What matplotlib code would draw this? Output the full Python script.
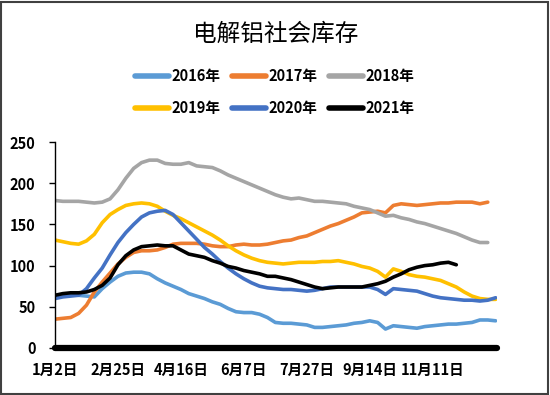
import matplotlib.pyplot as plt
from matplotlib.patches import Rectangle

plt.rcParams['font.family'] = ['Noto Sans CJK SC', 'DejaVu Sans']

tick_labels = ["1月2日", "2月25日", "4月16日", "6月7日", "7月27日", "9月14日", "11月11日"]
tick_step = 8

s2016 = [61, 63, 65, 64, 63, 62, 72, 80, 87, 91, 92, 92, 90, 84, 79, 75, 71, 66, 63, 60,
         56, 53, 48, 44, 43, 43, 41, 37, 31, 30, 30, 29, 28, 25, 25, 26, 27, 28, 30, 31,
         33, 31, 23, 27, 26, 25, 24, 26, 27, 28, 29, 29, 30, 31, 34, 34, 33]
s2017 = [35, 36, 37, 42, 52, 68, 80, 91, 102, 110, 116, 118, 118, 119, 122, 126, 127, 127, 127, 126,
         124, 123, 123, 125, 126, 125, 125, 126, 128, 130, 131, 134, 136, 140, 144, 148, 151, 155, 159, 164,
         165, 166, 164, 173, 175, 174, 173, 174, 175, 176, 176, 177, 177, 177, 175, 177]
s2018 = [179, 178, 178, 178, 177, 176, 177, 181, 192, 206, 218, 225, 228, 228, 224, 223, 223, 225, 221, 220,
         219, 215, 210, 206, 202, 198, 194, 190, 186, 183, 181, 182, 180, 178, 178, 177, 176, 175, 172, 170,
         168, 164, 160, 161, 158, 156, 153, 151, 148, 145, 142, 139, 135, 131, 128, 128]
s2019 = [131, 129, 127, 126, 130, 138, 152, 162, 168, 173, 175, 176, 175, 172, 166, 161, 157, 152, 147, 142,
         137, 131, 124, 118, 113, 109, 106, 104, 103, 102, 103, 104, 104, 104, 105, 105, 106, 104, 102, 99,
         97, 93, 86, 96, 93, 89, 87, 86, 84, 82, 78, 74, 68, 63, 60, 59, 59]
s2020 = [60, 62, 63, 64, 72, 85, 97, 113, 128, 140, 150, 159, 164, 166, 167, 162, 152, 142, 132, 122,
         114, 105, 97, 90, 84, 79, 75, 73, 72, 71, 71, 70, 69, 70, 72, 74, 74, 74, 74, 74,
         74, 71, 65, 72, 71, 70, 69, 66, 63, 61, 60, 59, 58, 58, 57, 58, 61]
s2021 = [64, 66, 67, 67, 68, 71, 76, 85, 101, 112, 119, 123, 124, 125, 124, 124, 119, 114, 112, 110,
         106, 103, 99, 97, 94, 92, 90, 87, 87, 85, 83, 80, 77, 74, 72, 73, 74, 74, 74, 74,
         76, 78, 81, 86, 90, 95, 98, 100, 101, 103, 104, 101]

years = ["2016年", "2017年", "2018年", "2019年", "2020年", "2021年"]
series = [s2016, s2017, s2018, s2019, s2020, s2021]
colors = ["#5B9BD5", "#ED7D31", "#A5A5A5", "#FFC000", "#4472C4", "#000000"]

fig = plt.figure(figsize=(5.5, 3.95), dpi=100)
fig.patches.append(Rectangle((0.002, 0.003), 0.995, 0.993, transform=fig.transFigure,
                             fill=False, edgecolor="#404040", linewidth=1.5))
ax = fig.add_axes([0.1, 0.119, 0.804, 0.5215])

lines = {}
for name, vals, c in zip(years, series, colors):
    ln, = ax.plot(range(len(vals)), vals, color=c, linewidth=2.6,
                  solid_capstyle="round", solid_joinstyle="round")
    lines[name] = ln

ax.set_xlim(0, 56.2)
ax.set_ylim(0, 250)
ax.set_yticks(range(0, 251, 50))
ax.set_xticks([i * tick_step for i in range(len(tick_labels))])
ax.set_xticklabels(tick_labels)

for lab in ax.get_xticklabels() + ax.get_yticklabels():
    lab.set_fontweight("bold")
    lab.set_fontsize(10.5)

ax.spines["top"].set_visible(False)
ax.spines["right"].set_visible(False)
ax.spines["left"].set_linewidth(1.0)
ax.spines["bottom"].set_linewidth(4.5)
ax.spines["bottom"].set_capstyle("round")
ax.tick_params(axis="y", direction="out", length=4, width=1, pad=10)
ax.tick_params(axis="x", length=0, pad=10)

fig.text(0.502, 0.912, "电解铝社会库存", ha="center", va="center", fontsize=17)

order = ["2016年", "2019年", "2017年", "2020年", "2018年", "2021年"]
leg = fig.legend([lines[k] for k in order], order, loc="center", bbox_to_anchor=(0.5, 0.768),
                 ncol=3, frameon=False, handlelength=2.3, handletextpad=0.2,
                 columnspacing=0.8, labelspacing=1.1,
                 prop={"weight": "bold", "size": 10.5})
for h in leg.legend_handles:
    h.set_linewidth(4)

fig.savefig("out.png", dpi=100)
